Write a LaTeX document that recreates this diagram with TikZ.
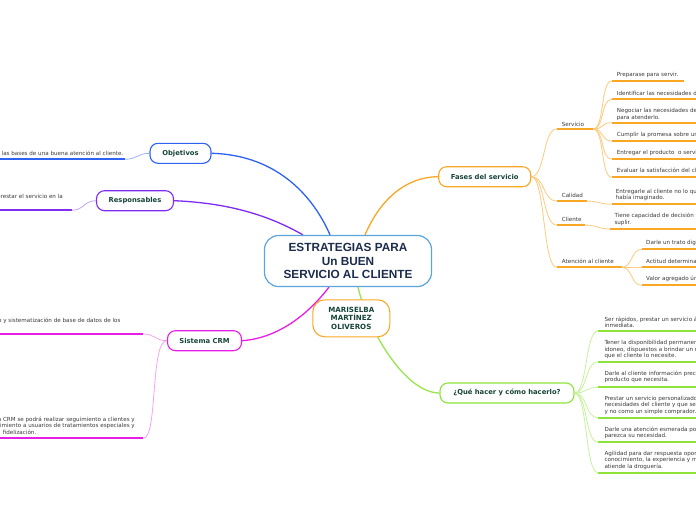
\documentclass[tikz,border=0pt]{standalone}
\usepackage{fontspec}
\setmainfont{DejaVu Sans}
\newfontfamily\cenfont{Liberation Sans}
\definecolor{cenblue}{HTML}{5AA5DC}
\definecolor{navy}{HTML}{1C2C4C}
\definecolor{nodegreen}{HTML}{17443A}
\definecolor{txtgray}{HTML}{3A3A3A}
\definecolor{blueC}{HTML}{2F62F2}
\definecolor{blueL}{HTML}{9DB6F7}
\definecolor{purpleC}{HTML}{7E2CF4}
\definecolor{purpleL}{HTML}{C3A2FA}
\definecolor{magC}{HTML}{E61EE6}
\definecolor{magL}{HTML}{F3A5F3}
\definecolor{orangeC}{HTML}{F9A825}
\definecolor{orangeL}{HTML}{FDCB7E}
\definecolor{greenC}{HTML}{8DE33A}
\definecolor{greenL}{HTML}{C5F29A}
\pgfdeclarelayer{bg}
\pgfsetlayers{bg,main}
\tikzset{
  topic/.style={draw, rounded corners=8pt, line width=1.1pt, fill=white, inner sep=0pt,
    minimum height=20pt, font=\bfseries\fontsize{6.8}{8.5}\selectfont, text=nodegreen, align=center},
  leaf/.style={inner sep=0pt, anchor=west, align=left, font=\fontsize{5.6}{6.3}\selectfont, text=txtgray},
  leafr/.style={leaf, anchor=east},
  uline/.style={line width=1.7pt},
  twig/.style={line width=0.8pt},
  bough/.style={line width=1.3pt},
  sway/.style={out=0, in=180, distance=#1},
}
\begin{document}
\begin{tikzpicture}[x=1pt,y=-1pt]
\useasboundingbox (0,0) rectangle (696,520);

% main nodes
\node[draw=cenblue, line width=1.2pt, rounded corners=14pt, fill=white, minimum width=167pt,
  minimum height=51pt, inner sep=0pt, align=center,
  font=\cenfont\bfseries\fontsize{11.8}{13.5}\selectfont, text=navy] (cen) at (348,261)
  {ESTRATEGIAS PARA\\Un BUEN\\SERVICIO AL CLIENTE};
\node[topic, draw=orangeC, rounded corners=12pt, minimum width=77pt, minimum height=37pt,
  font=\bfseries\fontsize{7.1}{8.6}\selectfont] (autor)
  at (351.3,318.3) {MARISELBA\\MARTÍNEZ\\OLIVEROS};
\node[topic, draw=blueC, minimum width=61pt] (obj) at (180.5,153.3) {Objetivos};
\node[topic, draw=purpleC, minimum width=77pt] (resp) at (135,200.7) {Responsables};
\node[topic, draw=magC, minimum width=74pt] (crm) at (204.5,340.7) {Sistema CRM};
\node[topic, draw=orangeC, minimum width=92pt] (fases) at (484.7,176.7) {Fases del servicio};
\node[topic, draw=greenC, minimum width=134pt] (que) at (507,393) {¿Qué hacer y cómo hacerlo?};

% main connectors
\begin{pgfonlayer}{bg}
\fill[white] (0,0) rectangle (696,520);
\draw[bough, blueC] (obj.east) .. controls (280,155) and (315,200) .. ([xshift=-18pt]cen.north);
\draw[bough, purpleC] (resp.east) .. controls (230,203) and (270,216) .. ([xshift=-45pt]cen.north);
\draw[bough, magC] (crm.east) .. controls (280,338) and (310,312) .. ([xshift=-19pt]cen.south);
\draw[bough, orangeC] ([xshift=17pt]cen.north) .. controls (380,200) and (405,177) .. (fases.west);
\draw[bough, greenC!90!white] ([xshift=10pt]cen.south) .. controls (368,330) and (405,393) .. (que.west);
\end{pgfonlayer}

% ---- left: Objetivos
\node[leaf] (objt) at (1.5,153.3) {las bases de una buena atención al cliente.};
\coordinate (objA) at (0,159.3); \coordinate (objB) at (125,159.3);
\draw[uline, blueC] (objA) -- (objB);
\draw[twig, blueL] (objB) to[sway=12pt] (obj.west);

% ---- left: Responsables
\node[leafr] (respt) at (63,196.7) {prestar el servicio en la};
\coordinate (respA) at (0,210.3); \coordinate (respB) at (71.7,210.3);
\draw[uline, purpleC] (respA) -- (respB);
\draw[twig, purpleL] (respB) to[sway=12pt] (resp.west);

% ---- left: Sistema CRM
\node[leafr] (crmt1) at (120.7,321) {o y sistematización de base de datos de los};
\coordinate (crmA) at (0,334); \coordinate (crmB) at (143.3,334);
\draw[uline, magC] (crmA) -- (crmB);
\draw[twig, magL] (crmB) to[sway=12pt] (crm.west);
\node[leafr] (crmt2a) at (135,419.8) {a CRM se podrá realizar seguimiento a clientes y};
\node[leafr] (crmt2b) at (135,426.1) {uimiento a usuarios de tratamientos especiales y};
\node[leaf] (crmt2c) at (2.7,432.4) {fidelización.};
\coordinate (crmC) at (0,438.3); \coordinate (crmD) at (143.3,438.3);
\draw[uline, magC] (crmC) -- (crmD);
\draw[twig, magL] (crm.west) .. controls (150,340.7) and (158,438.3) .. (crmD);

% ---- right: Fases del servicio
\node[leaf] (serv) at (561.7,124.5) {Servicio};
\coordinate (svA) at (556.7,129); \coordinate (svB) at (593.3,129);
\node[leaf] (cal) at (561.7,195.5) {Calidad};
\coordinate (caA) at (556.7,201); \coordinate (caB) at (586.7,201);
\node[leaf] (cli) at (561.7,219.2) {Cliente};
\coordinate (clA) at (556.7,225); \coordinate (clB) at (585,225);
\node[leaf] (ate) at (561.7,261) {Atención al cliente};
\coordinate (atA) at (556.7,267.3); \coordinate (atB) at (621.7,267.3);
\foreach \a/\b in {svA/svB, caA/caB, clA/clB, atA/atB} {
  \draw[uline, orangeC] (\a) -- (\b);
  \draw[twig, orangeL] (fases.east) to[sway=14pt] (\a);
}

% Servicio children
\node[leaf] (p1) at (616.7,75) {Preparase para servir.};
\node[leaf] (p2) at (616.7,93) {Identificar las necesidades d};
\node[leaf] (p3) at (616.7,114.5) {Negociar las necesidades del\\para atenderlo.};
\node[leaf] (p4) at (616.7,135.3) {Cumplir la promesa sobre un};
\node[leaf] (p5) at (616.7,153.3) {Entregar el producto\ \ o servi};
\node[leaf] (p6) at (616.7,170.7) {Evaluar la satisfacción del cli};
\coordinate (p1A) at (611.7,81); \coordinate (p1B) at (684,81);
\coordinate (p2A) at (611.7,99.3); \coordinate (p2B) at (696,99.3);
\coordinate (p3A) at (611.7,122.7); \coordinate (p3B) at (696,122.7);
\coordinate (p4A) at (611.7,141); \coordinate (p4B) at (696,141);
\coordinate (p5A) at (611.7,159.3); \coordinate (p5B) at (696,159.3);
\coordinate (p6A) at (611.7,177.3); \coordinate (p6B) at (696,177.3);
\foreach \a/\b in {p1A/p1B, p2A/p2B, p3A/p3B, p4A/p4B, p5A/p5B, p6A/p6B} {
  \draw[uline, orangeC] (\a) -- (\b);
  \draw[twig, orangeL] (svB) to[sway=11pt] (\a);
}

% Calidad / Cliente children
\node[leaf] (q1) at (615.7,194.7) {Entregarle al cliente no lo qu\\había imaginado.};
\coordinate (q1A) at (611.7,204.3); \coordinate (q1B) at (696,204.3);
\draw[uline, orangeC] (q1A) -- (q1B);
\draw[twig, orangeL] (caB) to[sway=11pt] (q1A);
\node[leaf] (r1) at (614.3,219.2) {Tiene capacidad de decisión y\\suplir.};
\coordinate (r1A) at (610,229); \coordinate (r1B) at (696,229);
\draw[uline, orangeC] (r1A) -- (r1B);
\draw[twig, orangeL] (clB) to[sway=11pt] (r1A);

% Atención al cliente children
\node[leaf] (a1) at (646,242.7) {Darle un trato dig};
\node[leaf] (a2) at (646,261) {Actitud determina};
\node[leaf] (a3) at (646,279) {Valor agregado ún};
\coordinate (a1A) at (641.7,249.3); \coordinate (a1B) at (696,249.3);
\coordinate (a2A) at (641.7,267.3); \coordinate (a2B) at (696,267.3);
\coordinate (a3A) at (641.7,285.3); \coordinate (a3B) at (696,285.3);
\foreach \a/\b in {a1A/a1B, a2A/a2B, a3A/a3B} {
  \draw[uline, orangeC] (\a) -- (\b);
  \draw[twig, orangeL] (atB) to[sway=11pt] (\a);
}

% ---- right: Qué hacer
\node[leaf] (g1) at (604.3,322.5) {Ser rápidos, prestar un servicio á\\inmediata.};
\node[leaf] (g2) at (604.3,349.5) {Tener la disponibilidad permanent\\idoneo, dispuestos a brindar un n\\que el cliente lo necesite.};
\node[leaf] (g3) at (604.3,377) {Darle al cliente información preci\\producto que necesita.};
\node[leaf] (g4) at (604.3,405.2) {Prestar un servicio personalizado\\necesidades del cliente y que se s\\y no como un simple comprador.};
\node[leaf] (g5) at (604.3,433) {Darle una atención esmerada por\\parezca su necesidad.};
\node[leaf] (g6) at (604.3,460.4) {Agilidad para dar respuesta oport\\conocimiento, la experiencia y ma\\atiende la droguería.};
\coordinate (g1A) at (598,331); \coordinate (g1B) at (696,331);
\coordinate (g2A) at (598,361.7); \coordinate (g2B) at (696,361.7);
\coordinate (g3A) at (598,387.3); \coordinate (g3B) at (696,387.3);
\coordinate (g4A) at (598,417.8); \coordinate (g4B) at (696,417.8);
\coordinate (g5A) at (598,442.3); \coordinate (g5B) at (696,442.3);
\coordinate (g6A) at (598,472.7); \coordinate (g6B) at (696,472.7);
\foreach \a/\b in {g1A/g1B, g2A/g2B, g3A/g3B, g4A/g4B, g5A/g5B, g6A/g6B} {
  \draw[uline, greenC] (\a) -- (\b);
  \draw[twig, greenL] (que.east) to[sway=13pt] (\a);
}
\end{tikzpicture}
\end{document}
